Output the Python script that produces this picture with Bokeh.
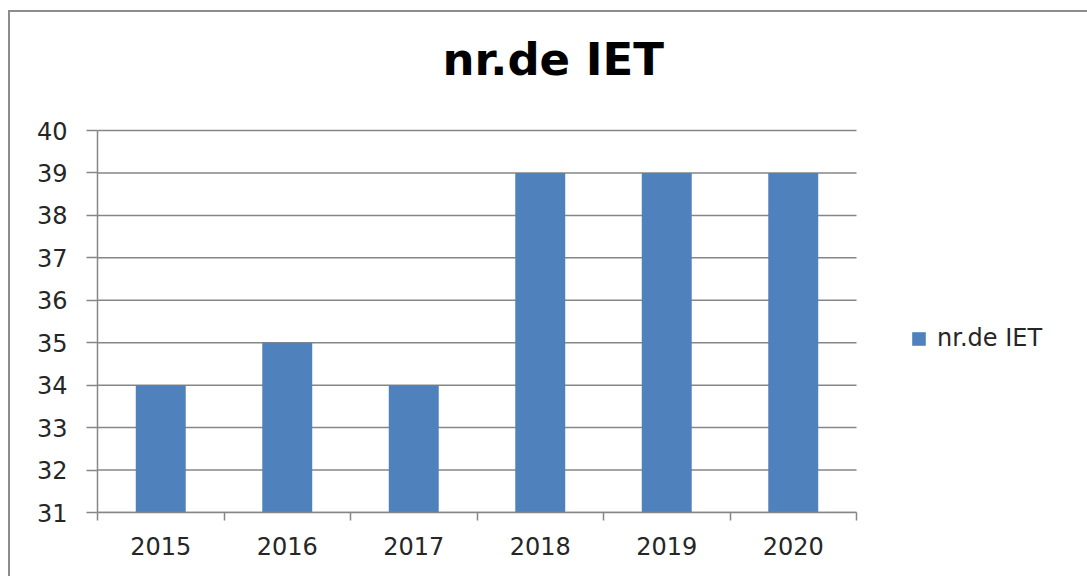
from bokeh.plotting import figure
from bokeh.models import (Range1d, FixedTicker, Legend, LegendItem, ColumnDataSource, Label)
from bokeh.embed import file_html
from bokeh.resources import INLINE

# ---- data ----
years = ["2015", "2016", "2017", "2018", "2019", "2020"]
counts = [34, 35, 34, 39, 39, 39]
y_ticks = [31, 32, 33, 34, 35, 36, 37, 38, 39, 40]
title_text = "nr.de IET"
series_name = "nr.de IET"

BAR = "#4F81BD"
GRID = "#868686"
TXT = "#262626"
FONT = "DejaVu Sans"

# ---- layout (pixels) ----
W, H = 1087, 576
PLOT_L, PLOT_R, PLOT_T, PLOT_B = 97, 856, 130, 512   # data area in the reference

# category slots: category i occupies [i, i+1], centre at i + 0.5
slot_centres = [i + 0.5 for i in range(len(years))]
slot_edges = list(range(len(years) + 1))

# the frame extends right (legend) and up (title); data area keeps reference size
x_end = len(years) * (W - PLOT_L) / (PLOT_R - PLOT_L)
y_end = y_ticks[0] + (y_ticks[-1] - y_ticks[0]) * PLOT_B / (PLOT_B - PLOT_T)

src = ColumnDataSource(dict(x=slot_centres, year=years, count=counts))
grid_src = ColumnDataSource(dict(y=y_ticks,
                                 x0=[slot_edges[0]] * len(y_ticks),
                                 x1=[slot_edges[-1]] * len(y_ticks)))

p = figure(width=W, height=H, output_backend="svg", toolbar_location=None, title=None,
           x_range=Range1d(slot_edges[0], x_end),
           y_range=Range1d(y_ticks[0], y_end),
           min_border_left=PLOT_L, min_border_top=0, min_border_right=0,
           min_border_bottom=H - PLOT_B,
           styles={"box-shadow": "inset 8px 10px 0 0 #ffffff, inset 10px 12px 0 0 #8c8c8c",
                   "background-color": "#ffffff"})
p.outline_line_color = None
p.background_fill_alpha = 0
p.border_fill_alpha = 0
p.xgrid.grid_line_color = None
p.ygrid.grid_line_color = None

# horizontal gridlines across the category area only
p.segment(x0="x0", x1="x1", y0="y", y1="y", source=grid_src,
          line_color=GRID, line_width=1.5)

# bars
r = p.vbar(x="x", top="count", width=0.395, source=src, color=BAR, line_color=None)

# title
p.add_layout(Label(x=442 - PLOT_L, y=PLOT_B - 59, x_units="screen", y_units="screen",
                   text=title_text, text_font=FONT, text_font_size="45px",
                   text_font_style="bold", text_color="#000000",
                   text_baseline="alphabetic", text_align="left"))

# y axis
ya = p.yaxis[0]
ya.ticker = FixedTicker(ticks=y_ticks)
ya.bounds = (y_ticks[0], y_ticks[-1])
ya.axis_line_color = GRID
ya.axis_line_width = 1.5
ya.major_tick_line_color = GRID
ya.major_tick_line_width = 1.5
ya.major_tick_out = 11
ya.major_tick_in = 0
ya.minor_tick_line_color = None
ya.major_label_text_font = FONT
ya.major_label_text_font_size = "24px"
ya.major_label_text_color = TXT
ya.major_label_standoff = 19

# x axis: labels at slot centres, tick marks at slot edges (minor ticks)
xa = p.xaxis[0]
xa.ticker = FixedTicker(ticks=slot_centres, minor_ticks=slot_edges)
xa.bounds = (slot_edges[0], slot_edges[-1])
xa.major_label_overrides = {c: y for c, y in zip(slot_centres, years)}
xa.axis_line_color = GRID
xa.axis_line_width = 1.5
xa.major_tick_line_color = None
xa.major_tick_out = 0
xa.major_tick_in = 0
xa.minor_tick_line_color = GRID
xa.minor_tick_line_width = 1.5
xa.minor_tick_out = 8
xa.minor_tick_in = 0
xa.major_label_text_font = FONT
xa.major_label_text_font_size = "24px"
xa.major_label_text_color = TXT
xa.major_label_standoff = 16

# legend
legend = Legend(items=[LegendItem(label=series_name, renderers=[r])],
                location=(910 - PLOT_L, PLOT_B - 352), orientation="vertical",
                border_line_color=None, background_fill_alpha=0,
                padding=0, margin=0, spacing=0,
                glyph_width=17, glyph_height=17, label_standoff=10,
                label_text_font=FONT, label_text_font_size="24px",
                label_text_color=TXT, label_height=17)
p.add_layout(legend, "center")

open("out.html", "w").write(file_html(p, INLINE))
